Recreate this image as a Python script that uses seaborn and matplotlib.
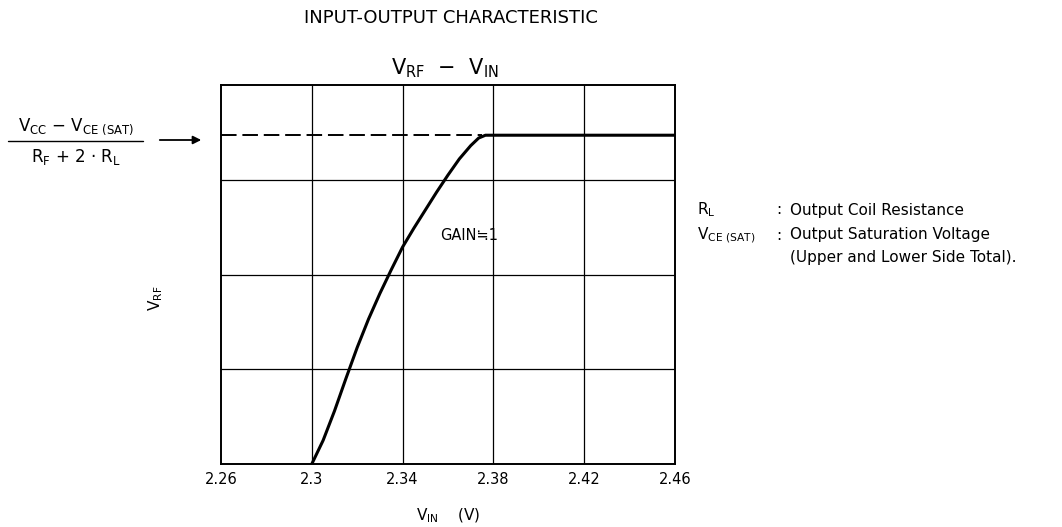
import pandas as pd
import matplotlib
matplotlib.use("Agg")
import matplotlib.pyplot as plt
import seaborn as sns

# curve
vin = [2.300, 2.305, 2.310, 2.315, 2.320, 2.325, 2.330, 2.335, 2.340,
       2.345, 2.350, 2.355, 2.360, 2.365, 2.370, 2.3735, 2.3765, 2.46]
vrf = [0.00, 0.25, 0.56, 0.90, 1.23, 1.53, 1.80, 2.05, 2.29,
       2.49, 2.68, 2.87, 3.05, 3.22, 3.36, 3.44, 3.47, 3.47]
sat_level = 3.47
x_ticks = [2.26, 2.3, 2.34, 2.38, 2.42, 2.46]
x_tick_labels = ["2.26", "2.3", "2.34", "2.38", "2.42", "2.46"]
y_grid = [1, 2, 3]

df = pd.DataFrame({"VIN": vin, "VRF": vrf})

sns.set_style("white")
plt.rcParams["font.family"] = ["DejaVu Sans", "Noto Sans CJK JP"]
plt.rcParams["mathtext.default"] = "regular"
plt.rcParams["text.color"] = "black"
plt.rcParams["xtick.color"] = "black"

W, H = 1062, 527
fig = plt.figure(figsize=(W / 100, H / 100), dpi=100)
ax = fig.add_axes([221 / W, 1 - 464 / H, 454 / W, 379 / H])


def px(x, y):
    return x / W, 1 - y / H


# grid
for xt in x_ticks[1:-1]:
    ax.axvline(xt, color="black", lw=0.9, zorder=1)
for yg in y_grid:
    ax.axhline(yg, color="black", lw=0.9, zorder=1)

# saturation level (dashed) up to where the curve reaches it
ax.plot([2.26, 2.3750], [sat_level, sat_level], color="black", lw=1.4,
        dashes=(8, 3), zorder=2)

sns.lineplot(data=df, x="VIN", y="VRF", ax=ax, color="black", lw=2.2,
             sort=False, zorder=3)

ax.set_xlim(2.26, 2.46)
ax.set_ylim(0, 4)
ax.set_xticks(x_ticks)
ax.set_xticklabels(x_tick_labels, fontsize=10.5)
ax.set_yticks([])
ax.tick_params(axis="x", length=0, pad=6)
ax.set_xlabel("")
ax.set_ylabel("")
for s in ax.spines.values():
    s.set_color("black")
    s.set_linewidth(1.4)

ax.text(2.3565, 2.41, "GAIN≒1", fontsize=10.5, ha="left", va="center")

# titles
fig.text(*px(451, 18), "INPUT-OUTPUT CHARACTERISTIC", fontsize=13,
         ha="center", va="center")
fig.text(*px(445, 68), r"$V_{RF}$  −  $V_{IN}$", fontsize=15,
         ha="center", va="center")

# axis labels
fig.text(*px(448, 516), r"$V_{IN}$    (V)", fontsize=11,
         ha="center", va="center")
fig.text(*px(156, 298), r"$V_{RF}$", fontsize=11, rotation=90,
         ha="center", va="center")

# left fraction with arrow
fig.text(*px(76, 127), r"$V_{CC}$ − $V_{CE\ (SAT)}$", fontsize=12,
         ha="center", va="center")
fig.add_artist(plt.Line2D([8 / W, 143 / W], [1 - 141 / H, 1 - 141 / H],
                          color="black", lw=1.0))
fig.text(*px(76, 157), r"$R_F$ + 2 · $R_L$", fontsize=12,
         ha="center", va="center")
ax.annotate("", xy=px(204, 140), xycoords="figure fraction",
            xytext=px(157, 140), textcoords="figure fraction",
            arrowprops=dict(arrowstyle="-|>", color="black", lw=1.3,
                            mutation_scale=12))

# legend notes on the right
fig.text(*px(697, 210), r"$R_L$", fontsize=11, ha="left", va="center")
fig.text(*px(776, 210), ":", fontsize=11, ha="left", va="center")
fig.text(*px(790, 210), "Output Coil Resistance", fontsize=11,
         ha="left", va="center")
fig.text(*px(697, 235), r"$V_{CE\ (SAT)}$", fontsize=11, ha="left",
         va="center")
fig.text(*px(776, 235), ":", fontsize=11, ha="left", va="center")
fig.text(*px(790, 235), "Output Saturation Voltage", fontsize=11,
         ha="left", va="center")
fig.text(*px(790, 258), "(Upper and Lower Side Total).", fontsize=11,
         ha="left", va="center")

fig.savefig("out.png", dpi=100, facecolor="white")
plt.close(fig)
